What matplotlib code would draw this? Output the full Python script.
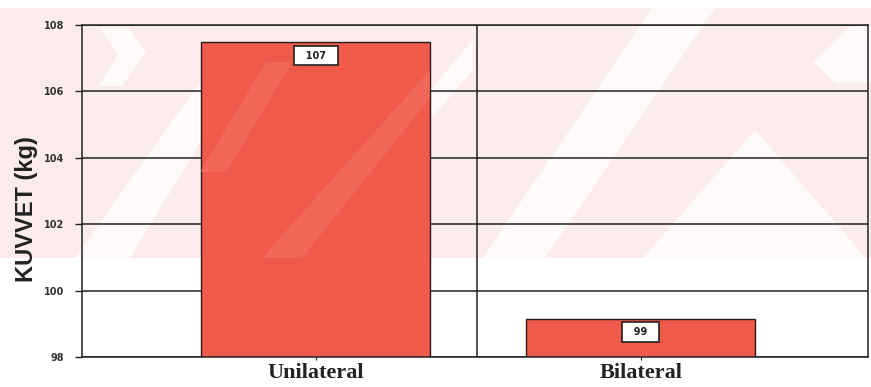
import matplotlib
matplotlib.use('Agg')
import matplotlib.pyplot as plt
from matplotlib.patches import Polygon
import numpy as np

# Kuvvet ortalamalari (kg)
categories = ['Unilateral', 'Bilateral']
kuvvet = [107.48, 99.15]
y_ticks = [98, 100, 102, 104, 106, 108]

W, H = 871, 387
bar_color = '#ef5a4b'
pink = '#fdecec'

fig = plt.figure(figsize=(W / 100.0, H / 100.0), dpi=100)
fig.patch.set_facecolor('white')


def fig_poly(pts, **kw):
    # pixel coordinates (y downwards) -> figure fraction
    xy = [(px / W, 1 - py / H) for px, py in pts]
    return Polygon(xy, closed=True, transform=fig.transFigure, **kw)


# faint watermark behind the chart
fig.patches.append(fig_poly([(0, 8), (W, 8), (W, 258), (0, 258)],
                            facecolor=pink, edgecolor='none', zorder=-10))
white_bands = [
    [(75, 258), (130, 258), (205, 135), (205, 75)],
    [(100, 28), (128, 28), (146, 52), (122, 86), (98, 86), (118, 55)],
    [(430, 90), (473, 40), (473, 70), (430, 120)],
    [(483, 258), (545, 258), (715, 8), (652, 8)],
    [(643, 258), (755, 130), (866, 258)],
    [(813, 62), (850, 27), (871, 27), (871, 83), (835, 83)],
]
for band in white_bands:
    fig.patches.append(fig_poly(band, facecolor='#fffafa', edgecolor='none', zorder=-9))

ax = fig.add_axes([82 / W, 30 / H, 786 / W, 332 / H])
ax.set_facecolor('none')

x = np.arange(len(categories))
bars = ax.bar(x, kuvvet, width=0.705, color=bar_color, edgecolor='#2a1a18',
              linewidth=1.0, zorder=2)

# lighter diagonal streaks across the first bar
for band in [[(200, 172), (226, 172), (292, 62), (266, 62)],
             [(262, 258), (302, 258), (430, 98), (430, 70)]]:
    p = fig_poly(band, facecolor='#f57b6a', edgecolor='none', alpha=0.45, zorder=3)
    ax.add_patch(p)
    p.set_transform(fig.transFigure)
    p.set_clip_path(bars[0])

# value boxes just under the top of each bar
for xi, val in zip(x, kuvvet):
    ax.annotate('  %.0f  ' % val, xy=(xi, val), xytext=(0, -6), textcoords='offset points',
                ha='center', va='top', fontsize=7, fontweight='bold', color='#222222',
                bbox=dict(boxstyle='square,pad=0.5', facecolor='white', edgecolor='#222222',
                          linewidth=1.2), zorder=5)

ax.set_xlim(-0.72, 1.70)
ax.set_ylim(98, 108)
ax.set_yticks(y_ticks)
ax.set_yticklabels([str(t) for t in y_ticks], fontsize=7, fontweight='bold', color='#333333')
ax.set_xticks(x)
ax.set_xticklabels(categories, fontsize=16, fontweight='bold', family='Liberation Serif',
                   color='#222222')
ax.tick_params(axis='y', length=5, width=1.0, pad=8, color='#222222')
ax.tick_params(axis='x', length=2.5, width=0.8, pad=2, color='#222222')

ax.yaxis.grid(True, color='#222222', linewidth=1.1, zorder=1)
ax.set_axisbelow(True)
ax.axvline(0.495, color='#222222', linewidth=1.1, zorder=1)

for side in ['left', 'right', 'top', 'bottom']:
    ax.spines[side].set_color('#222222')
    ax.spines[side].set_linewidth(1.1)

ax.set_ylabel('KUVVET (kg)', fontsize=17, fontweight='bold', family='Liberation Sans',
              color='#222222')
ax.yaxis.set_label_coords(-0.056, 0.446)

fig.savefig('out.png', dpi=100)
